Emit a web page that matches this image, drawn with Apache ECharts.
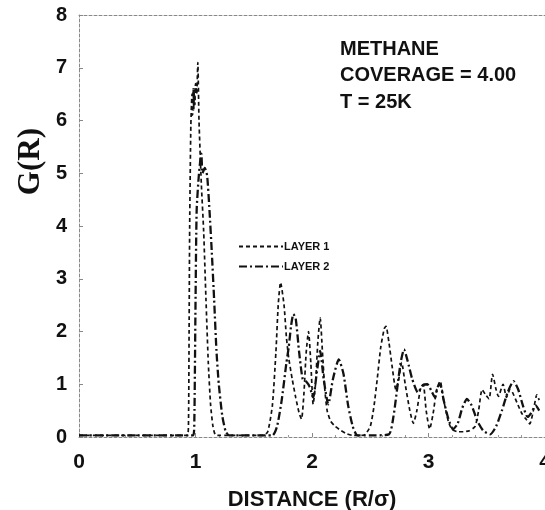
<!DOCTYPE html>
<html>
<head>
<meta charset="utf-8">
<script src="https://cdn.jsdelivr.net/npm/echarts@6/dist/echarts.min.js"></script>
<style>
  html, body { margin: 0; padding: 0; background: #fff; }
  #chart { width: 545px; height: 510px; }
</style>
</head>
<body>
<div id="chart"></div>
<script>
// distance R/sigma and G(R)
var layer1X = [0, 0.5, 0.93, 0.94, 0.945, 0.95, 0.96, 0.97, 0.975, 0.98, 0.985, 0.99, 0.995, 1.0, 1.01, 1.02,
  1.03, 1.05, 1.07, 1.09, 1.11, 1.13, 1.15, 1.17, 1.2, 1.4, 1.58, 1.62, 1.66, 1.69, 1.71, 1.73,
  1.76, 1.78, 1.8, 1.83, 1.86, 1.89, 1.91, 1.93, 1.95, 1.97, 1.99, 2.01, 2.03, 2.05, 2.07, 2.09,
  2.11, 2.13, 2.16, 2.2, 2.25, 2.3, 2.35, 2.4, 2.45, 2.5, 2.53, 2.56, 2.59, 2.62, 2.635, 2.66,
  2.69, 2.72, 2.745, 2.77, 2.8, 2.84, 2.87, 2.9, 2.93, 2.955, 2.98, 3.01, 3.04, 3.07, 3.1, 3.13,
  3.17, 3.2, 3.25, 3.3, 3.35, 3.4, 3.43, 3.46, 3.49, 3.52, 3.55, 3.58, 3.6, 3.64, 3.67, 3.7,
  3.72, 3.76, 3.8, 3.84, 3.87, 3.9, 3.93, 3.95];
var layer1Y = [0.03, 0.03, 0.03, 0.3, 2.0, 4.0, 5.9, 6.5, 6.1, 6.6, 6.2, 6.6, 6.3, 6.7, 6.5, 7.1,
  6.0, 4.8, 3.9, 2.6, 1.4, 0.6, 0.2, 0.04, 0.03, 0.03, 0.03, 0.1, 0.6, 1.6, 2.5, 2.93,
  2.5, 1.9, 1.5, 1.1, 0.75, 0.45, 0.34, 0.8, 1.6, 2.0, 1.4, 0.62, 1.0, 1.8, 2.26, 1.6,
  0.9, 0.5, 0.3, 0.2, 0.12, 0.06, 0.03, 0.03, 0.04, 0.2, 0.55, 1.1, 1.7, 2.05, 2.1, 1.8,
  1.3, 0.9, 1.1, 1.41, 1.0, 0.5, 0.26, 0.5, 0.9, 1.0, 0.5, 0.15, 0.45, 0.9, 1.06, 0.7,
  0.3, 0.15, 0.1, 0.1, 0.12, 0.2, 0.5, 0.9, 0.8, 0.72, 1.19, 0.9, 0.77, 1.0, 0.75, 0.9,
  0.85, 0.65, 0.45, 0.33, 0.25, 0.5, 0.8, 0.7];

var layer2X = [0, 0.5, 0.98, 0.99, 1.0, 1.01, 1.03, 1.05, 1.06, 1.08, 1.1, 1.12, 1.14, 1.16, 1.18, 1.2,
  1.23, 1.26, 1.29, 1.5, 1.66, 1.7, 1.74, 1.78, 1.8, 1.82, 1.84, 1.86, 1.89, 1.92, 1.95, 1.98,
  2.01, 2.04, 2.07, 2.1, 2.14, 2.18, 2.23, 2.27, 2.31, 2.35, 2.39, 2.5, 2.66, 2.7, 2.73, 2.76,
  2.79, 2.82, 2.86, 2.91, 2.95, 2.99, 3.03, 3.056, 3.08, 3.1, 3.13, 3.17, 3.21, 3.25, 3.29, 3.33,
  3.37, 3.42, 3.47, 3.53, 3.58, 3.63, 3.68, 3.73, 3.77, 3.81, 3.85, 3.88, 3.92, 3.95];
var layer2Y = [0.03, 0.03, 0.03, 0.3, 2.5, 4.3, 5.0, 5.37, 5.0, 5.1, 4.95, 4.3, 3.5, 2.6, 1.63, 1.0,
  0.4, 0.1, 0.03, 0.03, 0.03, 0.2, 0.7, 1.4, 1.7, 2.1, 2.33, 2.25, 1.6, 1.1, 1.05, 0.95,
  0.75, 1.2, 1.63, 1.1, 0.62, 1.1, 1.47, 1.2, 0.6, 0.2, 0.03, 0.03, 0.05, 0.4, 0.9, 1.4,
  1.66, 1.45, 1.1, 0.84, 0.98, 1.0, 0.85, 0.75, 0.95, 1.0, 0.7, 0.35, 0.15, 0.25, 0.55, 0.72,
  0.6, 0.3, 0.12, 0.05, 0.2, 0.5, 0.85, 1.06, 0.9, 0.6, 0.38, 0.45, 0.6, 0.5];

var seriesNames = ['LAYER 1', 'LAYER 2'];
var xTicks = [0, 1, 2, 3, 4];
var yTicks = [0, 1, 2, 3, 4, 5, 6, 7, 8];
var infoLines = ['METHANE', 'COVERAGE = 4.00', 'T = 25K'];

function pairs(xs, ys) {
  var out = [];
  for (var i = 0; i < xs.length; i++) out.push([xs[i], ys[i]]);
  return out;
}

var ink = '#111';
var sans = '"Liberation Sans", Arial, sans-serif';
var serif = '"Liberation Serif", "DejaVu Serif", serif';
var axisLine = { show: true, lineStyle: { color: '#888', width: 1, type: [3, 2] } };

var chart = echarts.init(document.getElementById('chart'), null, { renderer: 'canvas' });
chart.setOption({
  animation: false,
  backgroundColor: '#fff',
  title: {
    text: infoLines.join('\n'),
    left: 340,
    top: 36,
    padding: 0,
    textStyle: { fontFamily: sans, fontSize: 20, fontWeight: 'bold', color: ink, lineHeight: 26.5 }
  },
  graphic: [{
    type: 'text',
    left: 15,
    top: 128,
    rotation: Math.PI / 2,
    style: { text: 'G(R)', font: 'bold 31px ' + serif, fill: ink }
  }],
  legend: {
    data: seriesNames,
    orient: 'vertical',
    left: 233,
    top: 236,
    itemWidth: 44,
    itemHeight: 10,
    itemGap: 9,
    itemStyle: { opacity: 0 },
    textStyle: { fontFamily: sans, fontSize: 11, fontWeight: 'bold', color: ink, padding: [0, 0, 0, -4] }
  },
  grid: { left: 79, right: 0, top: 15, bottom: 73, outerBoundsMode: 'none' },
  xAxis: [{
    type: 'value',
    min: xTicks[0],
    max: xTicks[xTicks.length - 1],
    interval: 1,
    name: 'DISTANCE (R/\u03c3)',
    nameLocation: 'middle',
    nameGap: 52,
    nameTextStyle: { fontFamily: sans, fontSize: 22, fontWeight: 'bold', color: ink },
    axisLine: axisLine,
    axisTick: { show: true, inside: true, length: 4, lineStyle: { color: '#888' } },
    minorTick: { show: true, splitNumber: 5, length: 2, lineStyle: { color: '#999' } },
    splitLine: { show: false },
    axisLabel: { fontFamily: sans, fontSize: 21, fontWeight: 'bold', color: ink, margin: 15 }
  }, {
    type: 'value',
    position: 'top',
    min: 0,
    max: 4,
    axisLine: axisLine,
    axisTick: { show: false },
    axisLabel: { show: false },
    splitLine: { show: false }
  }],
  yAxis: {
    type: 'value',
    min: yTicks[0],
    max: yTicks[yTicks.length - 1],
    interval: 1,
    axisLine: axisLine,
    axisTick: { show: true, inside: true, length: 4, lineStyle: { color: '#888' } },
    splitLine: { show: false },
    axisLabel: { fontFamily: sans, fontSize: 20, fontWeight: 'bold', color: ink, margin: 12 }
  },
  series: [{
    name: seriesNames[0],
    type: 'line',
    data: pairs(layer1X, layer1Y),
    showSymbol: false,
    symbol: 'none',
    smooth: 0.2,
    lineStyle: { color: ink, width: 1.7, type: [4, 3] },
    itemStyle: { color: ink }
  }, {
    name: seriesNames[1],
    type: 'line',
    data: pairs(layer2X, layer2Y),
    showSymbol: false,
    symbol: 'none',
    smooth: 0.2,
    lineStyle: { color: ink, width: 2.3, type: [8, 3, 2, 3] },
    itemStyle: { color: ink }
  }]
});
</script>
</body>
</html>
